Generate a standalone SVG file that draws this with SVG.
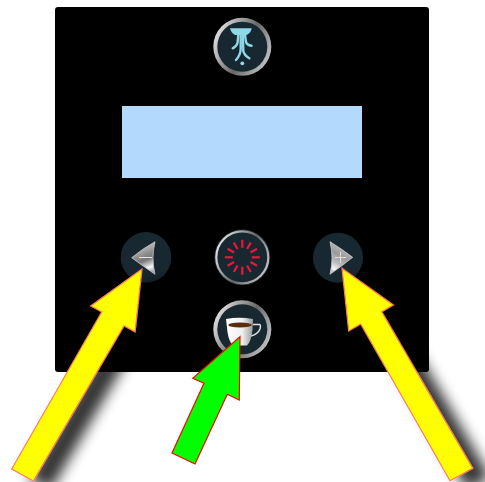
<svg xmlns="http://www.w3.org/2000/svg" width="485" height="482" viewBox="0 0 485 482">
<style>
.face{fill:#182830}
.tick{stroke:#f0143c;stroke-width:2.200}
.yellow{fill:#ffff00;stroke:#ff7a60;stroke-width:1.200}
.green{fill:#00ff00;stroke:#ff0000;stroke-width:1.200}
.water{fill:none;stroke:#8fd8e8;stroke-width:2.400;stroke-linecap:round}
</style>
<defs>
<linearGradient id="ring" x1="0" y1="0.25" x2="1" y2="0.75">
<stop offset="0" stop-color="#e8e8e8"/><stop offset="0.3" stop-color="#a0a0a0"/><stop offset="0.55" stop-color="#666"/><stop offset="0.8" stop-color="#a0a0a0"/><stop offset="1" stop-color="#c8c8c8"/>
</linearGradient>
<linearGradient id="metalL" x1="0.3" y1="0" x2="0.6" y2="1">
<stop offset="0" stop-color="#e0e0e0"/><stop offset="0.45" stop-color="#8a8a8a"/><stop offset="0.6" stop-color="#777"/><stop offset="0.85" stop-color="#f6f6f6"/><stop offset="1" stop-color="#b0b0b0"/>
</linearGradient>
<linearGradient id="metalR" x1="0.7" y1="0" x2="0.3" y2="1">
<stop offset="0" stop-color="#d0d0d0"/><stop offset="0.45" stop-color="#9a9a9a"/><stop offset="0.7" stop-color="#bbbbbb"/><stop offset="0.9" stop-color="#f8f8f8"/><stop offset="1" stop-color="#c0c0c0"/>
</linearGradient>
<linearGradient id="cup" x1="0" y1="0" x2="1" y2="0">
<stop offset="0" stop-color="#ffffff"/><stop offset="0.6" stop-color="#f0f0f0"/><stop offset="1" stop-color="#9a9a9a"/>
</linearGradient>
<filter id="shadow" x="-40%" y="-30%" width="190%" height="170%">
<feGaussianBlur in="SourceAlpha" stdDeviation="7"/>
<feOffset dx="17" dy="9"/>
<feComponentTransfer><feFuncA type="linear" slope="0.8"/></feComponentTransfer>
<feMerge><feMergeNode/><feMergeNode in="SourceGraphic"/></feMerge>
</filter>
</defs>
<rect width="485" height="482" fill="#ffffff"/>
<g id="panel">
<rect x="55" y="7" width="374" height="365" rx="3" fill="#000000"/>
</g>
<g id="display">
<rect x="122" y="106" width="240" height="72" fill="#b3dafc"/>
</g>
<g id="btn-top">
<circle cx="242.300" cy="46.700" r="29" fill="url(#ring)"/>
<circle cx="242.300" cy="46.700" r="25" class="face"/>
<path d="M230 28.300 H251.700 Q251 33 246.700 35 H235 Q231 33 230 28.300Z" fill="#8fd8e8"/>
<path class="water" d="M238.300 35 L237.500 43 Q236.500 46.500 232.700 48.300"/>
<path class="water" d="M245 35 L246 42 Q247 45 251.500 45.700"/>
<path class="water" d="M240.700 35 V49 Q240.500 55 236 60"/>
<path class="water" d="M242.800 35 L243.300 51 Q244 55 249.300 58.300"/>
<circle cx="242.300" cy="63.300" r="1.900" fill="#8fd8e8"/>
</g>
<g id="btn-left">
<circle cx="146" cy="257.300" r="25.300" class="face"/>
<path d="M155 241.700 Q151 258 155 274.300 Q143 266 131.700 257.700 Q142 249 155 241.700Z" fill="url(#metalL)" stroke="#c8c8c8" stroke-width="0.800" stroke-linejoin="round"/>
<path d="M139 257.500 H152" stroke="#e4e4e4" stroke-width="1"/>
</g>
<g id="btn-center">
<circle cx="242.300" cy="257.300" r="28" fill="#182830"/>
<circle cx="242.300" cy="257.300" r="26" fill="none" stroke="url(#ring)" stroke-width="2.200"/>
<g class="tick" transform="translate(242.300 257.300)">
<path d="M0 -9.500V-17.500"/><path d="M4.750 -8.230L8.500 -14.720"/><path d="M8.230 -4.750L14.720 -8.500"/><path d="M9.500 0H17.500"/><path d="M8.230 4.750L14.720 8.500"/><path d="M4.750 8.230L8.500 14.720"/><path d="M0 9.500V17.500"/><path d="M-4.750 8.230L-8.500 14.720"/><path d="M-8.230 4.750L-14.720 8.500"/><path d="M-9.500 0H-17.500"/><path d="M-8.230 -4.750L-14.720 -8.500"/><path d="M-4.750 -8.230L-8.500 -14.720"/>
</g>
</g>
<g id="btn-right">
<circle cx="338" cy="257.700" r="25" class="face"/>
<path d="M330 241.700 Q334 258 330 274.300 Q342 266 352.700 257.300 Q342 249 330 241.700Z" fill="url(#metalR)" stroke="#c8c8c8" stroke-width="0.800" stroke-linejoin="round"/>
<path d="M335 257.500 H346 M340.500 252 V263" stroke="#e0e0e0" stroke-width="1"/>
</g>
<g id="btn-coffee">
<circle cx="242.300" cy="329.300" r="29" fill="url(#ring)"/>
<circle cx="242.300" cy="329.300" r="25" class="face"/>
<path d="M253 324.500 H259.500 Q261 325 260 329 Q258 334 251 336" fill="none" stroke="#e0e0e0" stroke-width="1.500"/>
<path d="M226 319 Q239 316.500 253 319 L252.500 330 Q251 342 247 345.500 H233 Q229 342 227.500 332Z" fill="url(#cup)"/>
<ellipse cx="240" cy="325" rx="11.800" ry="2.500" fill="#5a2d0c"/>
</g>
<g id="connectors">
<path class="yellow" filter="url(#shadow)" d="M142 269 L90.700 306 L101.700 312 L11.700 469 L33.300 481 L124 325.700 L135 331.700Z"/>
<path class="yellow" filter="url(#shadow)" d="M342 268.300 L393.300 305 L381.700 311.700 L472.700 468.300 L450 480.700 L360.700 324 L348.700 331Z"/>
<path class="green" d="M240 336.700 L192.700 378.300 L204 383.300 L172 453 L195 464 L227.300 394.300 L239.300 400Z"/>
</g>
</svg>
